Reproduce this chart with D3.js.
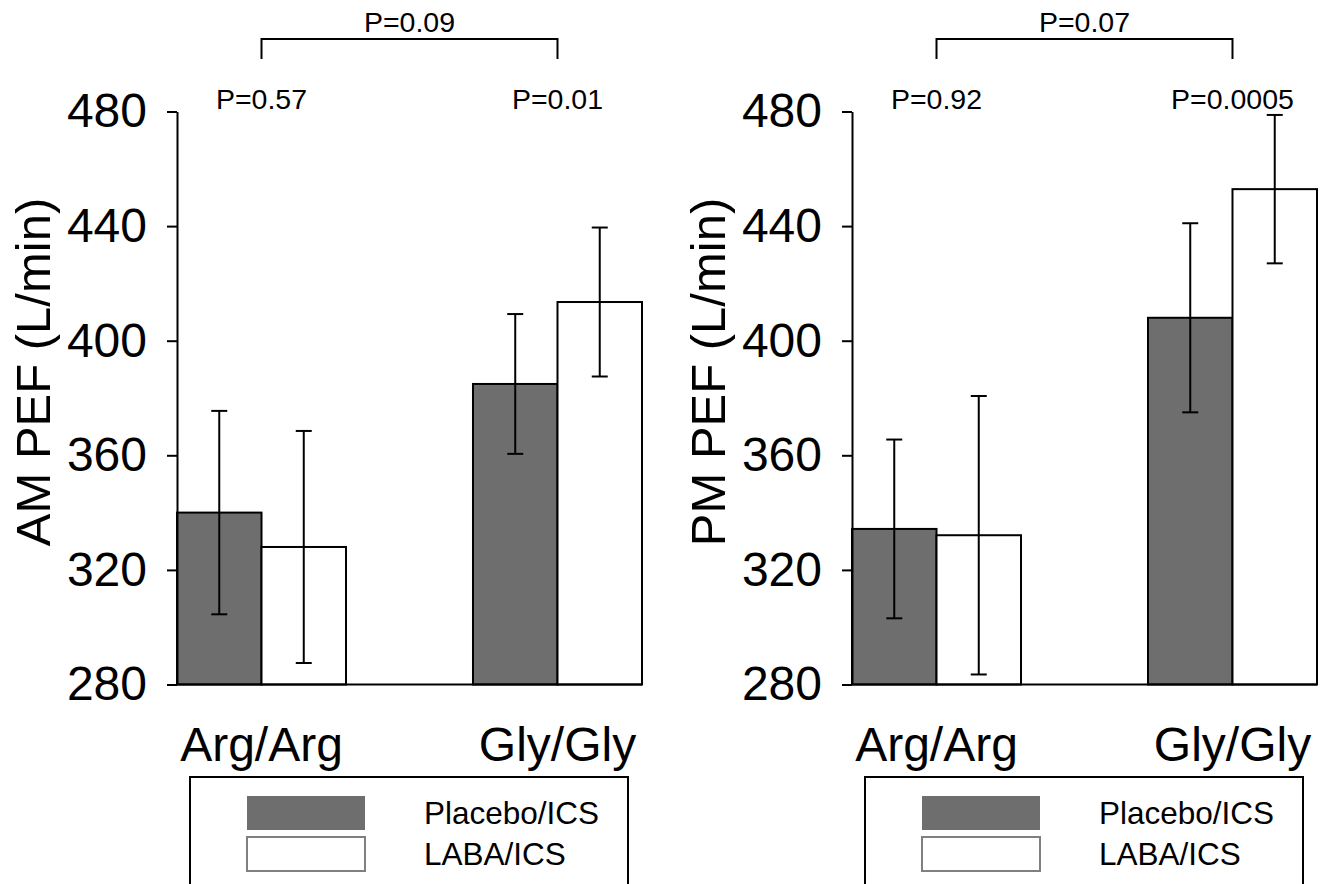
<!DOCTYPE html>
<html>
<head>
<meta charset="utf-8">
<script src="https://cdn.jsdelivr.net/npm/d3@7"></script>
<style>
  body { margin: 0; background: #fff; }
  svg { display: block; font-family: "Liberation Sans", Arial, sans-serif; }
</style>
</head>
<body>
<div id="chart"></div>
<script>
// Data (PEF in L/min, mean and error bar half-width)
const categories = ["Arg/Arg", "Gly/Gly"];
const treatments = ["Placebo/ICS", "LABA/ICS"];
const yTicks = [280, 320, 360, 400, 440, 480];

const amPlacebo = [340.0, 384.9];
const amPlaceboErr = [35.5, 24.4];
const amLaba = [328.0, 413.5];
const amLabaErr = [40.5, 26.0];

const pmPlacebo = [334.3, 408.0];
const pmPlaceboErr = [31.2, 33.0];
const pmLaba = [332.1, 452.9];
const pmLabaErr = [48.6, 25.9];

const amWithinP = ["P=0.57", "P=0.01"];
const pmWithinP = ["P=0.92", "P=0.0005"];
const amBetweenP = "P=0.09";
const pmBetweenP = "P=0.07";

const fills = ["#6e6e6e", "#ffffff"];

const width = 1327, height = 884;

const svg = d3.select("#chart").append("svg")
  .attr("width", width)
  .attr("height", height);

const y = d3.scaleLinear().domain([280, 480]).range([684.5, 111.5]);

// Draw one panel; everything is positioned in local coords, panel shifted by offsetX
function drawPanel(offsetX, title, placebo, placeboErr, laba, labaErr, withinP, betweenP) {
  const g = svg.append("g").attr("transform", `translate(${offsetX},0)`);

  const x0 = d3.scaleBand().domain(categories).range([177, 642])
    .paddingInner(0.429).paddingOuter(0);
  const x1 = d3.scaleBand().domain(treatments).range([0, x0.bandwidth()]);

  const rows = [];
  categories.forEach((c, i) => {
    rows.push({ cat: c, trt: treatments[0], v: placebo[i], e: placeboErr[i] });
    rows.push({ cat: c, trt: treatments[1], v: laba[i], e: labaErr[i] });
  });

  // bars
  g.selectAll("rect.bar").data(rows).join("rect")
    .attr("class", "bar")
    .attr("x", d => x0(d.cat) + x1(d.trt))
    .attr("y", d => y(d.v))
    .attr("width", x1.bandwidth())
    .attr("height", d => y(280) - y(d.v))
    .attr("fill", d => fills[treatments.indexOf(d.trt)])
    .attr("stroke", "#000")
    .attr("stroke-width", 2);

  // error bars
  const eb = g.selectAll("g.err").data(rows).join("g").attr("class", "err")
    .attr("stroke", "#000").attr("stroke-width", 2);
  const cx = d => x0(d.cat) + x1(d.trt) + x1.bandwidth() / 2;
  eb.append("line")
    .attr("x1", cx).attr("x2", cx)
    .attr("y1", d => y(d.v - d.e)).attr("y2", d => y(d.v + d.e));
  eb.append("line")
    .attr("x1", d => cx(d) - 8).attr("x2", d => cx(d) + 8)
    .attr("y1", d => y(d.v + d.e)).attr("y2", d => y(d.v + d.e));
  eb.append("line")
    .attr("x1", d => cx(d) - 8).attr("x2", d => cx(d) + 8)
    .attr("y1", d => y(d.v - d.e)).attr("y2", d => y(d.v - d.e));

  // y axis
  const yAxis = g.append("g")
    .attr("transform", "translate(177,0)")
    .call(d3.axisLeft(y).tickValues(yTicks).tickSize(10).tickSizeOuter(0).tickPadding(20));
  yAxis.select(".domain").attr("stroke", "#000").attr("stroke-width", 2);
  yAxis.selectAll(".tick line").attr("stroke", "#000").attr("stroke-width", 2);
  yAxis.selectAll(".tick text")
    .attr("font-size", 48)
    .attr("font-family", "Liberation Sans, Arial, sans-serif")
    .attr("fill", "#000");

  // baseline
  g.append("line")
    .attr("x1", 177).attr("x2", x0.range()[1])
    .attr("y1", y(280)).attr("y2", y(280))
    .attr("stroke", "#000").attr("stroke-width", 2);

  // category labels
  g.selectAll("text.cat").data(categories).join("text")
    .attr("class", "cat")
    .attr("x", d => x0(d) + x0.bandwidth() / 2)
    .attr("y", 761)
    .attr("text-anchor", "middle")
    .attr("font-size", 48)
    .text(d => d);

  // y title
  g.append("text")
    .attr("transform", "translate(50,372) rotate(-90)")
    .attr("text-anchor", "middle")
    .attr("font-size", 49)
    .text(title);

  // within-genotype p-values
  g.selectAll("text.pw").data(categories).join("text")
    .attr("class", "pw")
    .attr("x", d => x0(d) + x0.bandwidth() / 2)
    .attr("y", 109)
    .attr("text-anchor", "middle")
    .attr("font-size", 28.5)
    .text((d, i) => withinP[i]);

  // bracket between genotypes
  const bx = categories.map(c => x0(c) + x0.bandwidth() / 2);
  g.append("path")
    .attr("d", `M${bx[0]},59V39H${bx[1]}V59`)
    .attr("fill", "none").attr("stroke", "#000").attr("stroke-width", 2);
  g.append("text")
    .attr("x", (bx[0] + bx[1]) / 2)
    .attr("y", 32)
    .attr("text-anchor", "middle")
    .attr("font-size", 28.5)
    .text(betweenP);

  // legend
  g.append("rect")
    .attr("x", 190).attr("y", 777).attr("width", 438).attr("height", 140)
    .attr("fill", "none").attr("stroke", "#000").attr("stroke-width", 2);
  const lg = g.selectAll("g.leg").data(treatments).join("g").attr("class", "leg")
    .attr("transform", (d, i) => `translate(0,${i * 41})`);
  lg.append("rect")
    .attr("x", 247).attr("y", 796)
    .attr("width", 118).attr("height", 34)
    .attr("fill", (d, i) => fills[i])
    .attr("stroke", (d, i) => i === 0 ? "none" : "#808080")
    .attr("stroke-width", 2);
  lg.append("text")
    .attr("x", 424).attr("y", 824)
    .attr("font-size", 31.5)
    .text(d => d);
}

drawPanel(0, "AM PEF (L/min)", amPlacebo, amPlaceboErr, amLaba, amLabaErr, amWithinP, amBetweenP);
drawPanel(675, "PM PEF (L/min)", pmPlacebo, pmPlaceboErr, pmLaba, pmLabaErr, pmWithinP, pmBetweenP);
</script>
</body>
</html>
